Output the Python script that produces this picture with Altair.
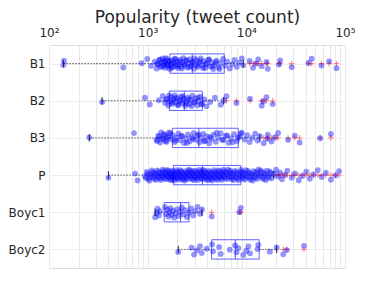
import altair as alt
import pandas as pd

names = ["B1", "B2", "B3", "P", "Boyc1", "Boyc2"]
whisk_lo = [140, 345, 256, 400, 1190, 2040]
q1 = [1680, 1660, 1780, 1820, 1470, 4450]
median = [2830, 2350, 3300, 3580, 2160, 7720]
q3 = [5970, 3580, 8280, 8800, 2620, 13500]
whisk_hi = [9300, 5900, 13700, 19000, 3550, 20300]

b1 = [140, 142, 566, 870, 990, 1080, 1180, 1230, 1270, 1310, 1350, 1390, 1420, 1450,
      1480, 1510, 1540, 1570, 1600, 1640, 1680, 1720, 1760, 1800, 1840, 1880, 1930,
      1980, 2030, 2080, 2130, 2190, 2250, 2310, 2380, 2450, 2520, 2600, 2680, 2760,
      2850, 2940, 3030, 3130, 3230, 3340, 3450, 3570, 3700, 3830, 3970, 4120, 4280,
      4450, 4620, 4800, 5000, 5250, 5500, 5800, 6100, 6400, 6800, 7200, 7600, 8000,
      8500, 9000, 9300, 10800, 11700, 12500, 13200, 14300, 16000, 16500, 21400, 22000,
      28800, 42600, 46000, 57800, 69000, 82000,
      1250, 1330, 1400, 1470, 1530, 1590, 1660, 1740, 1820, 1910, 2000, 2110, 2220,
      2340, 2480, 2640, 2800, 2990, 3180, 3400, 3640, 3900, 4200, 4550, 4900, 5350]
b2 = [345, 940, 1050, 1300, 1420, 1500, 1560, 1620, 1680, 1730, 1780, 1830, 1880, 1930,
      1990, 2050, 2110, 2180, 2250, 2320, 2400, 2480, 2560, 2650, 2740, 2840, 2950,
      3060, 3180, 3300, 3430, 3580, 3750, 3950, 4300, 4800, 5500, 5900, 6300, 7950,
      10900, 14300, 14800, 16000, 18500,
      1530, 1650, 1760, 1900, 2020, 2150, 2280, 2440, 2600, 2790, 3000, 3240, 3500]
b3 = [256, 727, 1230, 1280, 1340, 1400, 1460, 1520, 1580, 1650, 1720, 1800, 1880, 1960,
      2050, 2140, 2240, 2340, 2450, 2560, 2680, 2800, 2930, 3060, 3200, 3350, 3500,
      3660, 3830, 4000, 4200, 4400, 4650, 4900, 5200, 5500, 5850, 6200, 6600, 7000,
      7500, 8000, 8500, 9000, 9600, 10200, 10800, 11500, 12300, 13000, 13700, 15000,
      16300, 16500, 18000, 19500, 21000, 26500, 31000, 34700, 56000, 72000,
      1250, 1310, 1370, 1430, 1490, 1550, 1620, 1690, 1920, 2190, 2500, 2870, 3280,
      3750, 4300, 5000, 5700, 6400, 7250, 8200, 8800]
p = [400, 745, 790, 940, 980, 1020, 1060, 1100, 1140, 1180, 1220, 1260, 1300, 1340,
     1380, 1420, 1460, 1500, 1540, 1580, 1620, 1660, 1700, 1740, 1780, 1820, 1860,
     1900, 1950, 2000, 2050, 2100, 2150, 2200, 2260, 2320, 2380, 2440, 2500, 2570,
     2640, 2710, 2780, 2850, 2930, 3010, 3090, 3170, 3250, 3340, 3430, 3520, 3610,
     3700, 3800, 3900, 4000, 4110, 4220, 4330, 4450, 4570, 4700, 4830, 4960, 5100,
     5250, 5400, 5550, 5700, 5850, 6000, 6200, 6400, 6600, 6800, 7000, 7200, 7450,
     7700, 7950, 8200, 8500, 8800, 9100, 9400, 9700, 10000, 10400, 10800, 11200,
     11600, 12000, 12500, 13000, 13500, 14000, 14600, 15200, 15800, 16500, 17300,
     18000, 19000, 20000, 21000, 21900, 23000, 24500, 26000, 28800, 31000, 34000,
     37000, 40500, 44000, 48000, 53000, 58000, 64000, 72000, 80000, 87000,
     960, 1000, 1040, 1080, 1120, 1160, 1200, 1240, 1280, 1320, 1360, 1400, 1440,
     1480, 1520, 1560, 1600, 1640, 1680, 1720, 1760, 1800, 1840, 1880, 1925, 1975,
     2025, 2075, 2125, 2175, 2230, 2290, 2350, 2410, 2470, 2535, 2605, 2675, 2745,
     2815, 2890, 2970, 3050, 3130, 3210, 3295, 3385, 3475, 3565, 3655, 3750, 3850,
     3950, 4055, 4165, 4275, 4390, 4510, 4635, 4765, 4895, 5030, 5175, 5325, 5475,
     5625, 5775, 5925, 6100, 6300, 6500, 6700, 6900, 7100, 7325, 7575, 7825, 8075,
     8350, 8650, 8950, 9250, 9550, 9850, 10200, 10600, 11000, 11400, 11800, 12250,
     12750, 13250, 13750, 14300, 14900, 15500, 16100, 16900, 17700]
boyc1 = [1190, 1230, 1260, 1300, 1330, 1500, 1540, 1580, 1620, 1660, 1700, 1750, 1800,
         1860, 1920, 1990, 2060, 2140, 2220, 2300, 2400, 2500, 2620, 2750, 2900, 3050,
         3200, 3400, 3550, 4450, 8500, 8800]
boyc2 = [2040, 2790, 2950, 3150, 3390, 3530, 3980, 4500, 4600, 5300, 5500, 6800, 7700,
         7950, 8300, 9300, 10000, 10500, 10900, 13000, 13200, 17300, 20300, 23700, 25700,
         38400]

groups = [b1, b2, b3, p, boyc1, boyc2]

box = pd.DataFrame({"name": names, "idx": list(range(len(names))), "wlo": whisk_lo,
                    "q1": q1, "med": median, "q3": q3, "whi": whisk_hi})
rows = []
for i, vals in enumerate(groups):
    for v in vals:
        rows.append({"idx": i, "v": v,
                     "out": v < whisk_lo[i] or v > whisk_hi[i]})
pts = pd.DataFrame(rows)
outs = pts[pts["out"]]

ticks = [m * 10 ** e for e in range(2, 5) for m in range(1, 10)] + [100000]
sup = {2: "\u00b2", 3: "\u00b3", 4: "\u2074", 5: "\u2075"}
label_expr = " : ".join(
    f"datum.value == {10**e} ? '10{sup[e]}'" for e in range(2, 6)) + " : ''"
name_expr = "[" + ",".join(f"'{n}'" for n in names) + "][datum.value]"

xs = alt.Scale(type="log", domain=[100, 100000], nice=False)
ys = alt.Scale(domain=[-0.5, 5.5], reverse=True, nice=False, zero=False)

xaxis = alt.Axis(orient="top", values=ticks, labelExpr=label_expr, grid=True,
                 gridColor="#e8e8e8", ticks=False, domain=False, labelFlush=False,
                 labelOverlap=False, labelFontSize=12, labelColor="#262626",
                 labelFont="DejaVu Sans", labelPadding=6,
                 title="Popularity (tweet count)", titleFont="DejaVu Sans",
                 titleFontSize=17, titleFontWeight="normal", titleColor="#262626",
                 titleBaseline="alphabetic", titleY=-23)
yaxis = alt.Axis(values=list(range(len(names))), labelExpr=name_expr, grid=True,
                 gridColor="#ececec", ticks=False, domain=False, labelFontSize=12,
                 labelColor="#262626", labelFont="DejaVu Sans", labelPadding=4,
                 title=None)

base_box = alt.Chart(box).transform_calculate(
    lo="datum.idx - 0.26", hi="datum.idx + 0.26",
    clo="datum.idx - 0.1", chi="datum.idx + 0.1")

wl = base_box.mark_rule(color="#444", strokeDash=[1.5, 1.5], strokeWidth=0.9).encode(
    x=alt.X("wlo:Q", scale=xs, axis=xaxis), x2="q1:Q",
    y=alt.Y("idx:Q", scale=ys, axis=yaxis))
wh = base_box.mark_rule(color="#444", strokeDash=[1.5, 1.5], strokeWidth=0.9).encode(
    x="q3:Q", x2="whi:Q", y="idx:Q")
cap_l = base_box.mark_rule(color="#222", strokeWidth=1).encode(
    x="wlo:Q", y="clo:Q", y2="chi:Q")
cap_h = base_box.mark_rule(color="#222", strokeWidth=1).encode(
    x="whi:Q", y="clo:Q", y2="chi:Q")
rect = base_box.mark_rect(fill=None, stroke="#6060ff", strokeWidth=1).encode(
    x="q1:Q", x2="q3:Q", y="lo:Q", y2="hi:Q")
med = base_box.mark_rule(color="#5050ff", strokeWidth=1).encode(
    x="med:Q", y="lo:Q", y2="hi:Q")

cross = alt.Chart(outs).mark_point(
    shape="M-1,0L1,0M0,-1L0,1", filled=False, color="#ff2020", strokeWidth=1,
    size=30, opacity=0.6).encode(x="v:Q", y="idx:Q")

dots = alt.Chart(pts).transform_window(
    rn="row_number()").transform_calculate(
    yj="datum.idx + (((datum.rn * 0.618034) % 1) - 0.5) * 0.3").mark_circle(
    color="#0000ff", opacity=0.42, size=34).encode(x="v:Q", y="yj:Q")

chart = alt.layer(wl, wh, rect, med, cap_l, cap_h, cross, dots).properties(
    width=296, height=223,
    autosize=alt.AutoSizeParams(type="none"),
    padding={"left": 41, "top": 37, "right": 29, "bottom": 26},
).configure_view(stroke="#8c8c8c", strokeWidth=1).configure(background="white")

chart.save("out.html", embed_options={"renderer": "svg", "actions": False})
